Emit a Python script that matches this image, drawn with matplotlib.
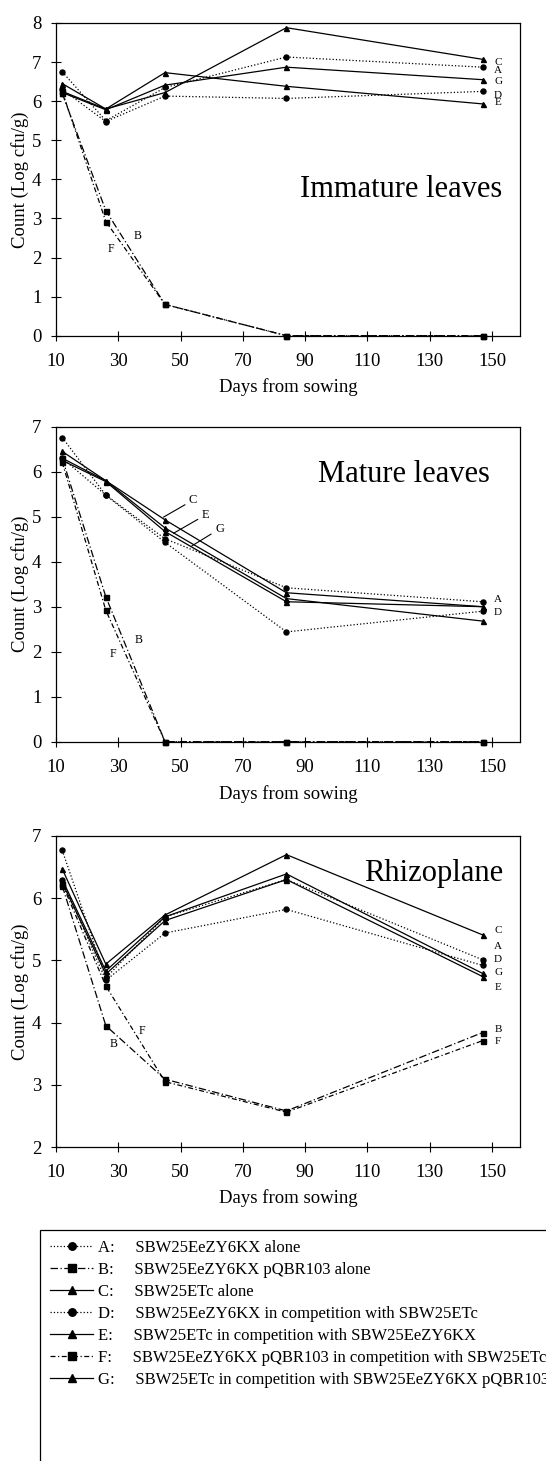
import matplotlib
matplotlib.use("Agg")
import matplotlib.pyplot as plt
from matplotlib.patches import Rectangle

plt.rcParams['font.family'] = ['Liberation Serif', 'DejaVu Serif']

# sampling days
days = [12, 26, 45, 84, 147]

# Immature leaves (log cfu/g)
imm_A = [6.75, 5.50, 6.35, 7.13, 6.87]
imm_B = [6.20, 3.20, 0.80, 0.00, 0.00]
imm_C = [6.45, 5.80, 6.22, 7.88, 7.07]
imm_D = [6.30, 5.48, 6.13, 6.07, 6.25]
imm_E = [6.25, 5.80, 6.73, 6.38, 5.93]
imm_F = [6.25, 2.92, 0.80, 0.00, 0.00]
imm_G = [6.22, 5.78, 6.41, 6.87, 6.55]

# Mature leaves
mat_A = [6.76, 5.48, 4.51, 3.42, 3.11]
mat_B = [6.30, 3.22, 0.00, 0.00, 0.00]
mat_C = [6.45, 5.80, 4.93, 3.31, 3.00]
mat_D = [6.30, 5.48, 4.43, 2.44, 2.90]
mat_E = [6.30, 5.80, 4.75, 3.18, 2.68]
mat_F = [6.21, 2.92, 0.00, 0.00, 0.00]
mat_G = [6.25, 5.78, 4.67, 3.11, 3.00]

# Rhizoplane
rhi_A = [6.77, 4.72, 5.70, 6.30, 5.01]
rhi_B = [6.20, 3.95, 3.09, 2.58, 3.84]
rhi_C = [6.47, 4.94, 5.73, 6.70, 5.41]
rhi_D = [6.30, 4.68, 5.44, 5.82, 4.92]
rhi_E = [6.25, 4.78, 5.64, 6.30, 4.74]
rhi_F = [6.23, 4.59, 3.05, 2.56, 3.71]
rhi_G = [6.30, 4.83, 5.70, 6.39, 4.79]

legend_labels = [
    "A:     SBW25EeZY6KX alone",
    "B:     SBW25EeZY6KX pQBR103 alone",
    "C:     SBW25ETc alone",
    "D:     SBW25EeZY6KX in competition with SBW25ETc",
    "E:     SBW25ETc in competition with SBW25EeZY6KX",
    "F:     SBW25EeZY6KX pQBR103 in competition with SBW25ETc",
    "G:     SBW25ETc in competition with SBW25EeZY6KX pQBR103",
]

styles = {
    'A': dict(ls=':', marker='o'),
    'B': dict(ls=(0, (6, 2, 1, 2)), marker='s'),
    'C': dict(ls='-', marker='^'),
    'D': dict(ls=':', marker='o'),
    'E': dict(ls='-', marker='^'),
    'F': dict(ls=(0, (4, 2, 1, 2)), marker='s'),
    'G': dict(ls='-', marker='^'),
}

W, H = 546, 1461
fig = plt.figure(figsize=(W / 100, H / 100), dpi=100)


def make_axes(top_px, bot_px):
    return fig.add_axes([56 / W, 1 - bot_px / H, 464 / W, (bot_px - top_px) / H])


def draw_panel(ax, series, ymin, ymax):
    handles = []
    for key in "ABCDEFG":
        st = styles[key]
        h, = ax.plot(days, series[key], color='black', lw=0.9, ls=st['ls'],
                     marker=st['marker'], ms=3.6, clip_on=False)
        handles.append(h)
    ax.set_xlim(10, 159)
    ax.set_ylim(ymin, ymax)
    ax.set_xticks(range(10, 151, 20))
    ax.set_yticks(range(ymin, ymax + 1))
    ax.tick_params(axis='both', direction='inout', length=7, width=0.8,
                   labelsize=13.5, pad=7)
    ax.tick_params(axis='x', pad=9)
    for sp in ax.spines.values():
        sp.set_linewidth(0.9)
    ax.set_xlabel("Days from sowing", fontsize=13.5)
    ax.set_ylabel("Count (Log cfu/g)", fontsize=13.5)
    ax.xaxis.set_label_coords(0.5, -0.137)
    ax.yaxis.set_label_coords(-0.058, 0.5)
    return handles


def side_letters(ax, items, x=152.0, size=8):
    for txt, y in items:
        ax.text(x, y, txt, fontsize=size, ha='center', va='center')


# Panel 1
ax1 = make_axes(23, 335.7)
handles = draw_panel(ax1, dict(A=imm_A, B=imm_B, C=imm_C, D=imm_D, E=imm_E,
                               F=imm_F, G=imm_G), 0, 8)
ax1.text(153.2, 3.56, "Immature leaves", fontsize=22, ha='right', va='baseline')
side_letters(ax1, [("C", 7.0), ("A", 6.79), ("G", 6.51), ("D", 6.15), ("E", 5.96)])
ax1.text(36.3, 2.56, "B", fontsize=8.5, ha='center', va='center')
ax1.text(27.7, 2.22, "F", fontsize=8.5, ha='center', va='center')

# Panel 2
ax2 = make_axes(426.7, 741.7)
draw_panel(ax2, dict(A=mat_A, B=mat_B, C=mat_C, D=mat_D, E=mat_E,
                     F=mat_F, G=mat_G), 0, 7)
ax2.text(149.4, 5.78, "Mature leaves", fontsize=22, ha='right', va='baseline')
side_letters(ax2, [("A", 3.15), ("D", 2.87)])
ax2.text(36.6, 2.25, "B", fontsize=8.5, ha='center', va='center')
ax2.text(28.3, 1.95, "F", fontsize=8.5, ha='center', va='center')
for txt, xy, xyt in [("C", (44.5, 4.99), (52.7, 5.37)),
                     ("E", (47.7, 4.63), (56.8, 5.04)),
                     ("G", (53.6, 4.35), (61.1, 4.73))]:
    ax2.annotate(txt, xy=xy, xytext=xyt, fontsize=9, ha='left', va='center',
                 arrowprops=dict(arrowstyle='-', lw=0.8, color='black',
                                 shrinkA=1, shrinkB=0))

# Panel 3
ax3 = make_axes(836, 1147)
draw_panel(ax3, dict(A=rhi_A, B=rhi_B, C=rhi_C, D=rhi_D, E=rhi_E,
                     F=rhi_F, G=rhi_G), 2, 7)
ax3.text(153.5, 6.28, "Rhizoplane", fontsize=22, ha='right', va='baseline')
side_letters(ax3, [("C", 5.48), ("A", 5.23), ("D", 5.02), ("G", 4.80),
                   ("E", 4.56), ("B", 3.89), ("F", 3.69)])
ax3.text(37.5, 3.86, "F", fontsize=8.5, ha='center', va='center')
ax3.text(28.4, 3.65, "B", fontsize=8.5, ha='center', va='center')

# legend box (runs off the right and bottom edges like the original)
fig.add_artist(Rectangle((40 / W, -0.05), 1.0, (H - 1230) / H + 0.05,
                         transform=fig.transFigure, fill=False,
                         lw=0.9, ec='black'))
fig.legend(handles, legend_labels, loc='upper left',
           bbox_to_anchor=(50 / W, 1 - 1240 / H), frameon=False,
           fontsize=12, handlelength=2.6, handletextpad=0.3,
           labelspacing=0.36, numpoints=1, markerscale=1.5,
           borderaxespad=0, borderpad=0)

fig.savefig("out.png", dpi=100)
